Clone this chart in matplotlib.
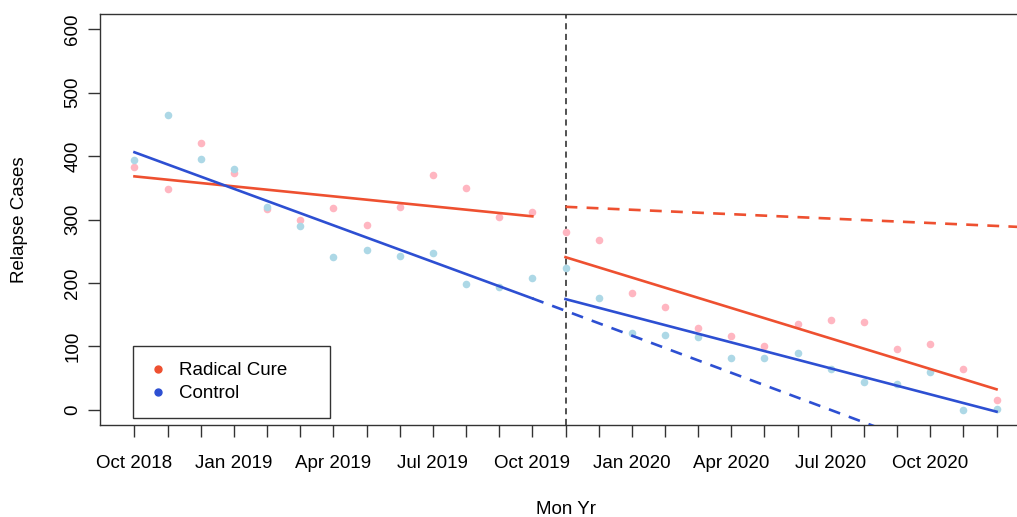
import matplotlib
matplotlib.use("Agg")
import matplotlib.pyplot as plt
from matplotlib.lines import Line2D

plt.rcParams['font.family'] = ['Liberation Sans', 'DejaVu Sans']

# monthly series, Oct 2018 .. Dec 2020
months = ['Oct 2018', 'Nov 2018', 'Dec 2018', 'Jan 2019', 'Feb 2019', 'Mar 2019',
          'Apr 2019', 'May 2019', 'Jun 2019', 'Jul 2019', 'Aug 2019', 'Sep 2019',
          'Oct 2019', 'Nov 2019', 'Dec 2019', 'Jan 2020', 'Feb 2020', 'Mar 2020',
          'Apr 2020', 'May 2020', 'Jun 2020', 'Jul 2020', 'Aug 2020', 'Sep 2020',
          'Oct 2020', 'Nov 2020', 'Dec 2020']
radical_cure = [382, 348, 421, 373, 317, 300, 318, 291, 319, 370, 350, 304, 312,
                281, 268, 184, 162, 129, 116, 100, 135, 142, 139, 96, 104, 65, 16]
control = [394, 464, 396, 379, 319, 290, 241, 252, 243, 247, 199, 194, 208,
           224, 177, 121, 118, 115, 81, 81, 89, 64, 44, 41, 60, 0, 1]
intervention = 13  # Nov 2019

# fitted segments (start, end) in month index and value
rc_pre_x, rc_pre_y = [0, 12], [368, 305]
ctrl_pre_x, ctrl_pre_y = [0, 12], [406, 175.6]
rc_post_x, rc_post_y = [13, 26], [240.6, 32.3]
ctrl_post_x, ctrl_post_y = [13, 26], [174.5, -3]
rc_cf_x, rc_cf_y = [13, 27.1], [320, 287.3]
ctrl_cf_x, ctrl_cf_y = [12, 26], [175.6, -98]

red = '#EE5030'
blue = '#2D4FD2'

fig = plt.figure(figsize=(10.17, 5.17), dpi=100)
ax = fig.add_axes([100 / 1017, 92 / 517, 931 / 1017, 411 / 517])

x = list(range(len(months)))
ax.scatter(x, radical_cure, s=30, color='#FFB6C1', linewidths=0, zorder=2)
ax.scatter(x, control, s=30, color='#ADD8E6', linewidths=0, zorder=2)

lw = 1.9
ax.plot(rc_pre_x, rc_pre_y, color=red, lw=lw, zorder=3)
ax.plot(ctrl_pre_x, ctrl_pre_y, color=blue, lw=lw, zorder=3)
ax.plot(rc_post_x, rc_post_y, color=red, lw=lw, zorder=3)
ax.plot(ctrl_post_x, ctrl_post_y, color=blue, lw=lw, zorder=3)
ax.plot(rc_cf_x, rc_cf_y, color=red, lw=lw, dashes=(4.5, 3.5), zorder=3)
ax.plot(ctrl_cf_x, ctrl_cf_y, color=blue, lw=lw, dashes=(4.5, 3.5), zorder=3)

ax.axvline(intervention, color='#222222', lw=1.1, dashes=(4, 3), zorder=1)

ax.set_xlim(-1.04, 27.04)
ax.set_ylim(-24, 624)
ax.set_xticks(x)
ax.set_xticklabels([m if i % 3 == 0 else '' for i, m in enumerate(months)])
ax.set_yticks(range(0, 601, 100))
ax.tick_params(axis='both', length=8.5, width=1.0, color='#333333', labelsize=13.5)
ax.tick_params(axis='x', pad=13)
ax.tick_params(axis='y', pad=5)
for lab in ax.get_yticklabels():
    lab.set_rotation(90)
    lab.set_va('center')

for s in ax.spines.values():
    s.set_color('#333333')
    s.set_linewidth(1.0)

ax.set_xlabel('Mon Yr', fontsize=13.5, labelpad=21)
ax.set_ylabel('Relapse Cases', fontsize=13.5, labelpad=26)

handles = [Line2D([], [], ls='none', marker='o', ms=5, color=red),
           Line2D([], [], ls='none', marker='o', ms=5, color=blue)]
leg = ax.legend(handles, ['Radical Cure', 'Control'], loc='lower left',
                bbox_to_anchor=(0.0355, 0.017, 0.2116, 0.17), mode='expand',
                borderaxespad=0, fontsize=13.5,
                frameon=True, fancybox=False, edgecolor='black', handlelength=1.0,
                handletextpad=0.6, borderpad=0.85, labelspacing=0.3)
leg.get_frame().set_linewidth(1.0)

plt.savefig('out.png', dpi=100)
